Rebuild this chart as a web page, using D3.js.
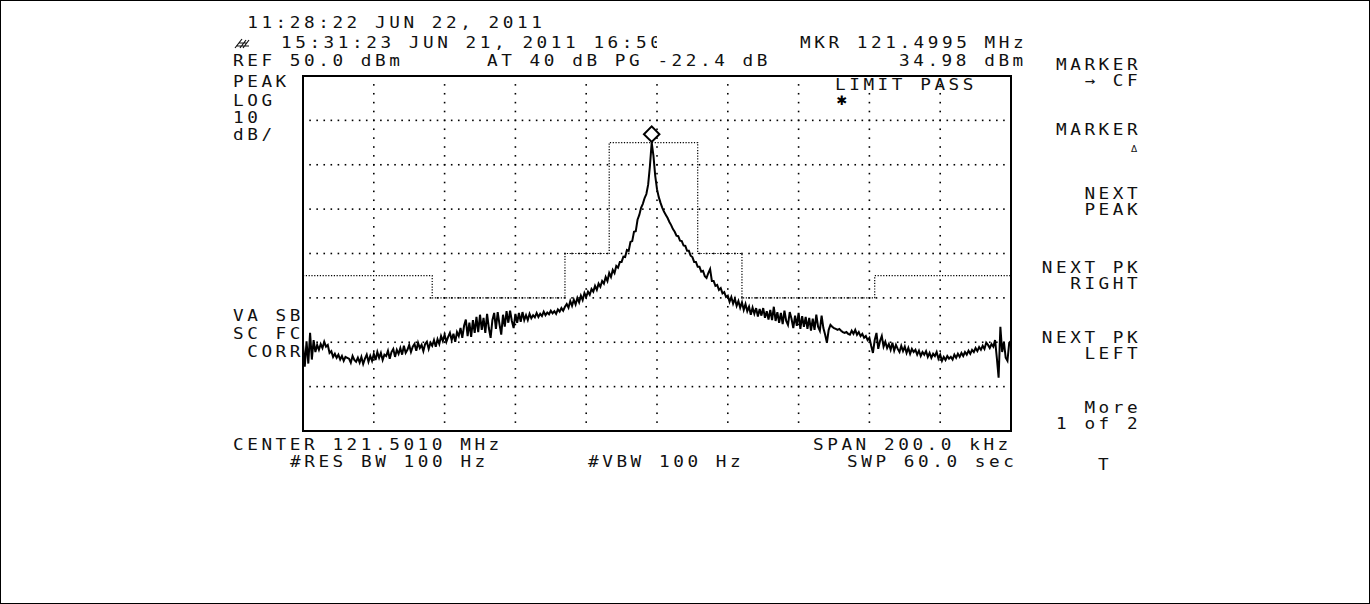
<!DOCTYPE html>
<html>
<head>
<meta charset="utf-8">
<script src="https://cdn.jsdelivr.net/npm/d3@7"></script>
<style>
  html, body { margin: 0; padding: 0; background: #fff; }
  svg { display: block; }
</style>
</head>
<body>
<svg id="chart" width="1370" height="604"></svg>
<script>
// ---------------- DATA ----------------
// Trace amplitude (dBm), 401 sweep points from -100 kHz to +100 kHz around centre
const traceDbm = [
  -10.5,-15.5,-9.8,-14.8,-7.9,-13.9,-9.5,-12.2,-10.6,-11.7,
  -10.4,-11.3,-9.9,-11.0,-10.6,-12.4,-12.0,-13.3,-12.6,-13.5,
  -12.8,-13.9,-13.1,-14.2,-13.3,-13.5,-13.7,-14.6,-13.1,-14.0,
  -14.4,-13.5,-14.6,-13.3,-14.9,-13.7,-12.8,-14.4,-13.1,-14.2,
  -12.6,-14.0,-12.2,-13.5,-12.4,-14.0,-12.8,-13.1,-11.9,-13.7,
  -12.2,-11.5,-13.3,-11.7,-12.6,-11.3,-12.8,-10.8,-12.4,-11.7,
  -10.6,-12.2,-11.0,-10.4,-11.9,-10.1,-11.3,-10.6,-12.0,-10.4,
  -9.9,-11.5,-10.1,-10.8,-9.5,-11.0,-9.3,-10.4,-8.6,-9.7,
  -8.3,-9.9,-8.8,-7.9,-9.5,-8.1,-9.9,-7.7,-8.6,-6.8,
  -9.0,-6.3,-4.9,-8.6,-5.6,-8.8,-5.0,-7.9,-4.3,-7.7,
  -3.8,-7.2,-4.5,-7.9,-3.6,-6.8,-9.0,-5.0,-3.4,-7.0,
  -3.2,-5.9,-8.3,-3.8,-6.5,-3.0,-5.6,-2.9,-5.2,-6.8,
  -3.6,-5.6,-3.4,-5.4,-3.2,-5.0,-3.9,-5.0,-3.6,-4.6,
  -3.9,-4.4,-3.4,-4.3,-3.6,-4.1,-3.1,-3.9,-3.3,-3.7,
  -2.9,-3.5,-3.0,-3.6,-2.6,-3.1,-2.3,-2.9,-2.0,-1.4,
  -2.2,-0.7,-1.8,-0.4,-1.5,0.0,-1.0,0.5,-0.5,1.1,
  0.2,1.4,0.7,2.0,1.4,2.7,1.8,3.2,2.5,3.8,
  3.2,4.7,3.8,5.6,4.7,6.3,5.6,7.2,6.8,8.1,
  8.1,9.3,9.2,10.8,10.6,12.6,12.8,14.9,15.0,17.6,
  18.7,20.3,21.2,22.5,23.4,25.5,29.7,34.98,32.0,27.5,
  24.5,22.7,21.4,20.3,19.4,18.7,18.0,17.1,16.4,15.5,
  14.9,14.0,13.9,12.9,12.8,11.8,11.7,10.6,10.6,9.5,
  9.2,8.1,8.1,7.0,7.0,5.9,6.1,4.9,4.5,5.6,
  6.5,3.8,3.8,2.7,2.9,1.8,2.2,1.0,1.3,0.2,
  0.5,-0.9,0.2,-1.3,-0.2,-1.8,-0.7,-2.2,-1.0,-2.7,
  -1.4,-3.0,-2.0,-3.8,-2.2,-3.6,-2.3,-4.2,-2.5,-4.0,
  -2.3,-4.5,-3.0,-4.9,-2.7,-5.0,-2.0,-5.2,-3.2,-5.6,
  -3.4,-5.9,-2.9,-5.2,-6.1,-3.2,-4.7,-6.8,-4.0,-6.3,
  -3.4,-7.0,-4.1,-6.5,-4.3,-7.0,-4.5,-7.4,-4.7,-7.2,
  -3.8,-6.5,-7.4,-4.0,-6.8,-8.3,-10.1,-7.2,-6.1,-6.5,
  -6.8,-7.0,-7.2,-7.0,-7.4,-7.7,-7.9,-7.7,-8.1,-8.3,
  -7.4,-8.1,-7.2,-8.3,-7.7,-8.6,-8.1,-9.0,-8.6,-9.5,
  -9.0,-10.8,-12.4,-9.5,-7.9,-11.5,-9.7,-8.6,-11.0,-9.9,
  -11.3,-10.4,-11.7,-10.1,-11.9,-10.6,-11.5,-12.2,-10.8,-12.0,
  -11.0,-12.4,-11.3,-12.6,-11.5,-12.2,-11.7,-12.8,-11.9,-13.1,
  -12.2,-12.8,-12.0,-13.3,-12.4,-13.5,-12.6,-13.1,-12.2,-13.7,
  -12.8,-14.2,-13.3,-14.0,-13.1,-13.7,-13.3,-13.9,-12.8,-13.5,
  -12.6,-13.3,-12.4,-13.1,-12.2,-12.8,-11.9,-12.6,-11.7,-12.2,
  -11.3,-12.0,-11.1,-11.7,-10.8,-11.5,-10.1,-10.6,-11.3,-10.4,
  -11.0,-9.5,-13.5,-18.0,-6.5,-12.2,-9.9,-13.5,-14.2,-10.1,
  -9.7
];
// Limit line (offset kHz from centre, dBm)
const limitOffsetKHz = [-100, -63.5, -63.5, -26, -26, -13.5, -13.5, 11.5, 11.5, 24, 24, 61.5, 61.5, 100];
const limitDbm       = [5, 5, 0, 0, 10, 10, 35, 35, 10, 10, 0, 0, 5, 5];
// Axis settings
const spanKHz = 200;
const refDbm = 50;
const dbPerDiv = 10;
const vDivs = 8;
const hDivs = 10;
const markerOffsetKHz = -1.5;
const markerDbm = 34.98;

// ---------------- TEXTS ----------------
const headerTexts = [
  {t: " 11:28:22 JUN 22, 2011", x: 233, y: 28},
  {t: "15:31:23 JUN 21, 2011 16:50", x: 281, y: 48, clip: true},
  {t: "REF 50.0 dBm", x: 233, y: 66},
  {t: "AT 40 dB PG -22.4 dB", x: 487, y: 66},
  {t: "MKR 121.4995 MHz", x: 800, y: 48},
  {t: "34.98 dBm", x: 899, y: 66},
  {t: "PEAK", x: 233, y: 87},
  {t: "LOG", x: 233, y: 106},
  {t: "10", x: 233, y: 123},
  {t: "dB/", x: 233, y: 140},
  {t: "VA SB", x: 233, y: 321},
  {t: "SC FC", x: 233, y: 339},
  {t: " CORR", x: 233, y: 357},
  {t: "LIMIT PASS", x: 835, y: 90},
  {t: "CENTER 121.5010 MHz", x: 233, y: 450},
  {t: "#RES BW 100 Hz", x: 290, y: 467},
  {t: "#VBW 100 Hz", x: 588, y: 467},
  {t: "SPAN 200.0 kHz", x: 813, y: 450},
  {t: "SWP 60.0 sec", x: 847, y: 467}
];
const softkeyTexts = [
  {t: "MARKER", y: 70}, {t: "\u2192 CF", y: 86},
  {t: "MARKER", y: 135},
  {t: "NEXT", y: 199}, {t: "PEAK", y: 215},
  {t: "NEXT PK", y: 273}, {t: "RIGHT", y: 289},
  {t: "NEXT PK", y: 343}, {t: "LEFT", y: 359},
  {t: "More", y: 413}, {t: "1 of 2", y: 429}
];

// ---------------- DRAW ----------------
const svg = d3.select("#chart");
const W = 1370, H = 604;
const plot = {left: 303, right: 1011, top: 76, bottom: 431};
const pitch = 14.2;
const FONT = "'DejaVu Sans Mono', monospace";
const FS = 15;
const SX = 1.18; // horizontal glyph stretch (wide terminal font)

svg.append("rect").attr("x", 0.5).attr("y", 0.5).attr("width", W - 1).attr("height", H - 1)
  .attr("fill", "#fff").attr("stroke", "#000").attr("stroke-width", 1);

const x = d3.scaleLinear().domain([-spanKHz / 2, spanKHz / 2]).range([plot.left, plot.right]);
const y = d3.scaleLinear().domain([refDbm - vDivs * dbPerDiv, refDbm]).range([plot.bottom, plot.top]);

// grid dots
const gridG = svg.append("g").attr("fill", "#000");
const hLevels = d3.range(1, vDivs).map(i => refDbm - i * dbPerDiv);
const vLevels = d3.range(1, hDivs).map(i => -spanKHz / 2 + i * spanKHz / hDivs);
const hDots = [];
hLevels.forEach(lv => {
  for (let f = -spanKHz / 2 + 2; f < spanKHz / 2 - 0.5; f += 2) hDots.push({f, lv});
});
const vDots = [];
vLevels.forEach(f => {
  for (let lv = refDbm - 2; lv > refDbm - vDivs * dbPerDiv + 0.5; lv -= 2) vDots.push({f, lv});
});
gridG.selectAll("rect.h").data(hDots).join("rect").attr("class", "h")
  .attr("x", d => x(d.f) - 0.8).attr("y", d => y(d.lv) - 0.8).attr("width", 1.6).attr("height", 1.6);
gridG.selectAll("rect.v").data(vDots).join("rect").attr("class", "v")
  .attr("x", d => x(d.f) - 0.8).attr("y", d => y(d.lv) - 0.8).attr("width", 1.6).attr("height", 1.6);

// limit line
const limitData = limitOffsetKHz.map((f, i) => [f, limitDbm[i]]);
svg.append("path").datum(limitData)
  .attr("d", d3.line().x(d => x(d[0])).y(d => y(d[1])))
  .attr("fill", "none").attr("stroke", "#000").attr("stroke-width", 1.2)
  .attr("stroke-dasharray", "1.2,1.6");

// trace
const traceData = traceDbm.map((v, i) => [-spanKHz / 2 + i * spanKHz / (traceDbm.length - 1), v]);
svg.append("path").datum(traceData)
  .attr("d", d3.line().x(d => x(d[0])).y(d => y(d[1])))
  .attr("fill", "none").attr("stroke", "#000").attr("stroke-width", 2)
  .attr("stroke-linejoin", "miter");

// frame
svg.append("rect").attr("x", plot.left).attr("y", plot.top)
  .attr("width", plot.right - plot.left).attr("height", plot.bottom - plot.top)
  .attr("fill", "none").attr("stroke", "#000").attr("stroke-width", 2);

// marker diamond
svg.append("path")
  .attr("d", d3.symbol(d3.symbolSquare, 120)())
  .attr("transform", `translate(${x(markerOffsetKHz)},${y(markerDbm) - 8.5}) rotate(45)`)
  .attr("fill", "#fff").attr("stroke", "#000").attr("stroke-width", 2);

// limit pass asterisk
svg.append("text").attr("x", 842).attr("y", 105).attr("text-anchor", "middle")
  .attr("font-family", "'DejaVu Sans', sans-serif").attr("font-size", 13).attr("font-weight", "bold")
  .text("\u2731");

// clip for truncated header line
svg.append("clipPath").attr("id", "hdrclip").append("rect")
  .attr("x", 0).attr("y", 0).attr("width", 657 / SX).attr("height", 60);

function monoText(sel, str, x0, yb) {
  const xs = Array.from(str).map((c, i) => ((x0 + i * pitch) / SX).toFixed(2)).join(" ");
  return sel.append("text").attr("x", xs).attr("y", yb)
    .attr("transform", `scale(${SX},1)`)
    .attr("font-family", FONT).attr("font-size", FS).attr("fill", "#111")
    .attr("xml:space", "preserve").text(str);
}

const txtG = svg.append("g");
headerTexts.forEach(d => {
  const t = monoText(txtG, d.t, d.x, d.y);
  if (d.clip) t.attr("clip-path", "url(#hdrclip)");
});

const skRight = 1127;
softkeyTexts.forEach(d => {
  const n = Array.from(d.t).length;
  monoText(txtG, d.t, skRight - (n - 1) * pitch, d.y);
});
// delta under second MARKER
txtG.append("text").attr("x", 1131).attr("y", 152).attr("font-family", "'DejaVu Sans', sans-serif")
  .attr("font-size", 9).attr("fill", "#111").text("\u0394");
monoText(txtG, "T", 1098, 470);

// HP-style logo glyph before the second header line
const logo = svg.append("g").attr("stroke", "#111").attr("stroke-width", 1.2).attr("fill", "none");
logo.append("path").attr("d", "M235,48 L242,39 M239,43 L247,43 M240,48 L246,40 M243,48 L249,40 M236,46 L249,46");
</script>
</body>
</html>
